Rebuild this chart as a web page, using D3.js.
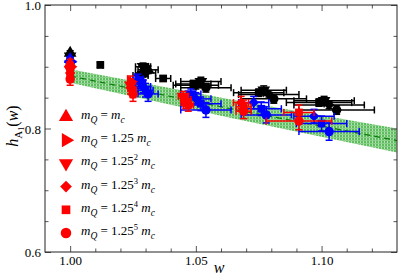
<!DOCTYPE html>
<html>
<head>
<meta charset="utf-8">
<script src="https://cdn.jsdelivr.net/npm/d3@7"></script>
<style>
  body { margin: 0; background: #fff; }
  svg text { font-family: "Liberation Serif" !important; }
</style>
</head>
<body>
<div id="chart"></div>
<script>
// band from the fit
const bandW = [1.00, 1.065, 1.13];
const bandLo = [0.874, 0.816, 0.761];
const bandHi = [0.896, 0.846, 0.800];

// points: [shape, w, dw, h, dh]   shape = index of m_Q
const blackPts = [
  [0, 1.000, 0, 0.922, 0.004], [2, 1.000, 0, 0.917, 0.004],
  [4, 1.012, 0.001, 0.903, 0.004],
  [2, 1.029, 0.003, 0.900, 0.006], [0, 1.031, 0.004, 0.895, 0.006], [3, 1.030, 0.004, 0.890, 0.006],
  [5, 1.028, 0.003, 0.886, 0.006],
  [4, 1.037, 0.003, 0.881, 0.004],
  [2, 1.052, 0.008, 0.876, 0.007], [3, 1.050, 0.009, 0.870, 0.006], [5, 1.054, 0.010, 0.866, 0.007],
  [4, 1.049, 0.007, 0.872, 0.006],
  [2, 1.077, 0.009, 0.862, 0.007], [3, 1.079, 0.012, 0.855, 0.006], [5, 1.081, 0.013, 0.848, 0.007],
  [4, 1.075, 0.010, 0.858, 0.006],
  [2, 1.101, 0.012, 0.845, 0.007], [3, 1.103, 0.014, 0.838, 0.006], [5, 1.106, 0.015, 0.830, 0.007],
  [4, 1.099, 0.013, 0.842, 0.006]
];
const bluePts = [
  [0, 1.000, 0, 0.912, 0.004], [1, 1.000, 0, 0.908, 0.004], [2, 1.000, 0, 0.904, 0.005],
  [1, 1.027, 0.002, 0.880, 0.008], [2, 1.028, 0.002, 0.874, 0.009], [3, 1.029, 0.003, 0.868, 0.010],
  [4, 1.030, 0.003, 0.862, 0.011], [5, 1.031, 0.004, 0.856, 0.012],
  [2, 1.048, 0.004, 0.856, 0.008], [3, 1.050, 0.006, 0.848, 0.010], [4, 1.052, 0.008, 0.840, 0.011], [5, 1.054, 0.010, 0.830, 0.012],
  [3, 1.073, 0.006, 0.842, 0.010], [4, 1.076, 0.008, 0.832, 0.011], [5, 1.078, 0.010, 0.822, 0.013],
  [3, 1.097, 0.008, 0.820, 0.011], [4, 1.100, 0.010, 0.808, 0.012], [5, 1.103, 0.012, 0.795, 0.014]
];
const redPts = [
  [0, 1.000, 0, 0.905, 0.007], [1, 1.000, 0, 0.900, 0.007], [2, 1.000, 0, 0.895, 0.008],
  [3, 1.000, 0, 0.890, 0.008], [4, 1.000, 0, 0.885, 0.009], [5, 1.000, 0, 0.880, 0.010],
  [1, 1.024, 0.001, 0.876, 0.009], [2, 1.024, 0.001, 0.870, 0.010], [3, 1.024, 0.001, 0.866, 0.010],
  [4, 1.025, 0.001, 0.861, 0.011], [5, 1.025, 0.001, 0.856, 0.012],
  [2, 1.045, 0.002, 0.852, 0.008], [3, 1.046, 0.002, 0.847, 0.009], [4, 1.046, 0.002, 0.842, 0.010], [5, 1.047, 0.002, 0.838, 0.010],
  [3, 1.068, 0.003, 0.842, 0.010], [4, 1.069, 0.003, 0.835, 0.011], [5, 1.069, 0.003, 0.828, 0.012],
  [4, 1.091, 0.006, 0.826, 0.012], [5, 1.091, 0.013, 0.812, 0.014]
];

const legendPowers = ["", "", "2", "3", "4", "5"];
const xMajor = [1.00, 1.05, 1.10];
const xMinor = [1.01, 1.02, 1.03, 1.04, 1.06, 1.07, 1.08, 1.09, 1.11, 1.12];
const yMajor = [0.6, 0.8, 1.0];
const yMinor = [0.65, 0.7, 0.75, 0.85, 0.9, 0.95];

const width = 399, height = 276;
const serif = "Liberation Serif";
const x = d3.scaleLinear().domain([0.99, 1.13]).range([45, 397]);
const y = d3.scaleLinear().domain([0.6, 1.0]).range([252, 5]);

const svg = d3.select("#chart").append("svg")
  .attr("width", width)
  .attr("height", height)
  .attr("font-family", serif);

const defs = svg.append("defs");
const pat = defs.append("pattern")
  .attr("id", "hatch")
  .attr("patternUnits", "userSpaceOnUse")
  .attr("width", 3).attr("height", 3);
pat.append("rect").attr("width", 3).attr("height", 3).attr("fill", "#5cbd5c");
pat.append("rect").attr("width", 1).attr("height", 3).attr("fill", "#b4e2b4");
pat.append("rect").attr("width", 3).attr("height", 1).attr("y", 2).attr("fill", "#8ccf8c");
defs.append("clipPath").attr("id", "plotclip")
  .append("rect").attr("x", 45).attr("y", 5).attr("width", 352).attr("height", 247);

const band = bandW.map((w, i) => ({ w, lo: bandLo[i], hi: bandHi[i] }));
const plot = svg.append("g").attr("clip-path", "url(#plotclip)");

plot.append("path")
  .datum(band)
  .attr("fill", "url(#hatch)")
  .attr("d", d3.area().x(d => x(d.w)).y0(d => y(d.lo)).y1(d => y(d.hi)));

plot.append("path")
  .datum(band)
  .attr("fill", "none")
  .attr("stroke", "#0a7a0a")
  .attr("stroke-width", 1.2)
  .attr("stroke-dasharray", "6,4")
  .attr("d", d3.line().x(d => x(d.w)).y(d => y((d.lo + d.hi) / 2)));

const shapes = [
  { t: d3.symbolTriangle, r: 0, s: 70 },
  { t: d3.symbolTriangle, r: 90, s: 70 },
  { t: d3.symbolTriangle, r: 180, s: 70 },
  { t: d3.symbolSquare, r: 45, s: 55 },
  { t: d3.symbolSquare, r: 0, s: 60 },
  { t: d3.symbolCircle, r: 0, s: 70 }
];

function drawSeries(pts, color) {
  const g = plot.append("g");
  const cap = 3.5;
  pts.forEach(p => {
    const [s, w, dw, h, dh] = p;
    const cx = x(w), cy = y(h);
    const eg = g.append("g").attr("stroke", color).attr("stroke-width", 1.5).attr("fill", "none");
    if (dh > 0) {
      eg.append("line").attr("x1", cx).attr("x2", cx).attr("y1", y(h - dh)).attr("y2", y(h + dh));
      eg.append("line").attr("x1", cx - cap).attr("x2", cx + cap).attr("y1", y(h - dh)).attr("y2", y(h - dh));
      eg.append("line").attr("x1", cx - cap).attr("x2", cx + cap).attr("y1", y(h + dh)).attr("y2", y(h + dh));
    }
    if (dw > 0) {
      eg.append("line").attr("x1", x(w - dw)).attr("x2", x(w + dw)).attr("y1", cy).attr("y2", cy);
      eg.append("line").attr("x1", x(w - dw)).attr("x2", x(w - dw)).attr("y1", cy - cap).attr("y2", cy + cap);
      eg.append("line").attr("x1", x(w + dw)).attr("x2", x(w + dw)).attr("y1", cy - cap).attr("y2", cy + cap);
    }
    const sh = shapes[s];
    g.append("path")
      .attr("d", d3.symbol(sh.t, sh.s)())
      .attr("transform", `translate(${cx},${cy}) rotate(${sh.r})`)
      .attr("fill", color);
  });
}

drawSeries(blackPts, "#000");
drawSeries(bluePts, "#0000ff");
drawSeries(redPts, "#ff0000");

// axes with inward ticks on all four sides
function axisGroup(axis, tr) {
  const g = svg.append("g").attr("transform", tr).call(axis);
  g.attr("font-family", serif);
  g.select(".domain").remove();
  g.selectAll(".tick line").attr("stroke", "#555");
  g.selectAll("text").attr("font-size", 13).attr("fill", "#000");
  return g;
}
axisGroup(d3.axisBottom(x).tickValues(xMajor).tickFormat(d3.format(".2f")).tickSize(-6).tickPadding(4), "translate(0,252)");
axisGroup(d3.axisBottom(x).tickValues(xMinor).tickFormat("").tickSize(-3.5), "translate(0,252)");
axisGroup(d3.axisTop(x).tickValues(xMajor).tickFormat("").tickSize(-6), "translate(0,5)");
axisGroup(d3.axisTop(x).tickValues(xMinor).tickFormat("").tickSize(-3.5), "translate(0,5)");
const yAx = axisGroup(d3.axisLeft(y).tickValues(yMajor).tickFormat(d3.format(".1f")).tickSize(-6).tickPadding(4), "translate(45,0)");
yAx.selectAll("text").attr("dy", "0.36em");
axisGroup(d3.axisLeft(y).tickValues(yMinor).tickFormat("").tickSize(-3.5), "translate(45,0)");
axisGroup(d3.axisRight(y).tickValues(yMajor).tickFormat("").tickSize(-6), "translate(397,0)");
axisGroup(d3.axisRight(y).tickValues(yMinor).tickFormat("").tickSize(-3.5), "translate(397,0)");

svg.append("rect")
  .attr("x", 45).attr("y", 5).attr("width", 352).attr("height", 247)
  .attr("fill", "none").attr("stroke", "#222").attr("stroke-width", 1);

// axis titles
svg.append("text")
  .attr("x", 219).attr("y", 273)
  .attr("text-anchor", "middle")
  .attr("font-size", 16).attr("font-style", "italic")
  .text("w");

const yl = svg.append("text")
  .attr("transform", "translate(18,126) rotate(-90)")
  .attr("text-anchor", "middle")
  .attr("font-size", 16);
yl.append("tspan").attr("font-style", "italic").text("h");
yl.append("tspan").attr("font-size", 11).attr("dy", 4).text("A");
yl.append("tspan").attr("font-size", 8).attr("dy", 2).text("1");
yl.append("tspan").attr("dy", -6).text("(");
yl.append("tspan").attr("font-style", "italic").text("w");
yl.append("tspan").text(")");

// legend
const legend = svg.append("g");
legendPowers.forEach((pw, i) => {
  const ly = 117 + i * 23.2;
  const sh = shapes[i];
  legend.append("path")
    .attr("d", d3.symbol(sh.t, sh.s * 1.25)())
    .attr("transform", `translate(66,${ly}) rotate(${sh.r})`)
    .attr("fill", "#ff0000");
  const t = legend.append("text")
    .attr("x", 81).attr("y", ly + 2)
    .attr("font-size", 13);
  t.append("tspan").attr("font-style", "italic").text("m");
  t.append("tspan").attr("font-style", "italic").attr("font-size", 9.5).attr("dy", 4).text("Q");
  if (i === 0) {
    t.append("tspan").attr("dy", -4).text(" = ");
    t.append("tspan").attr("font-style", "italic").text("m");
  } else {
    t.append("tspan").attr("dy", -4).text(" = 1.25");
    if (pw) {
      t.append("tspan").attr("font-size", 8.5).attr("dy", -5).text(pw);
      t.append("tspan").attr("dy", 5).text(" ");
    } else {
      t.append("tspan").text(" ");
    }
    t.append("tspan").attr("font-style", "italic").text("m");
  }
  t.append("tspan").attr("font-style", "italic").attr("font-size", 9.5).attr("dy", 4).text("c");
});
</script>
</body>
</html>
